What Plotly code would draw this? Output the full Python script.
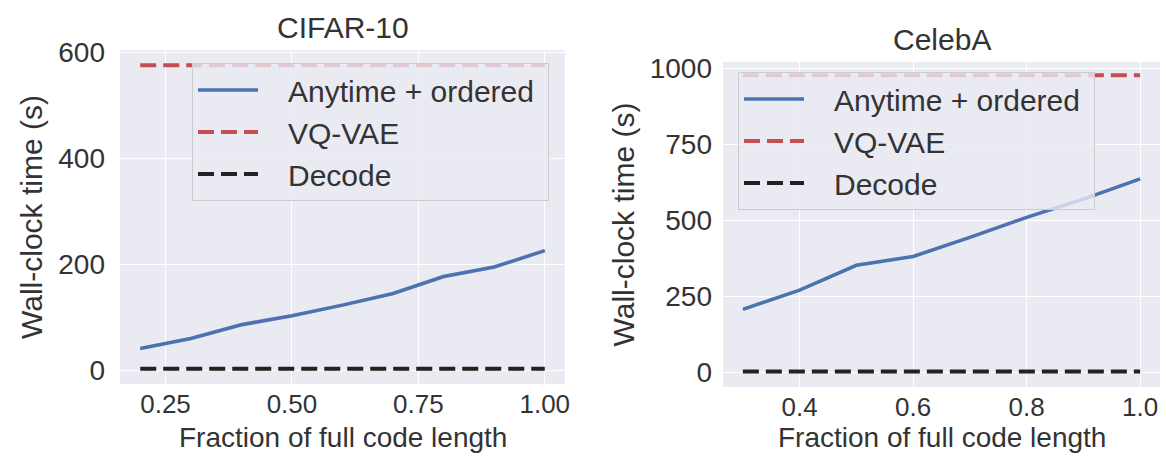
import plotly.graph_objects as go

# ---------------- data ----------------
cifar_x = [0.2, 0.3, 0.4, 0.45, 0.5, 0.6, 0.7, 0.8, 0.9, 1.0]
cifar_anytime = [41, 60, 86, 95, 103, 123, 145, 177, 195, 226]
cifar_lower = [39, 57, 82, 90, 100, 120, 142, 173, 192, 223]
cifar_upper = [44, 63, 90, 99, 106, 126, 148, 181, 198, 229]
cifar_vqvae = 576
cifar_decode = 3

celeba_x = [0.3, 0.4, 0.5, 0.6, 0.7, 0.8, 0.9, 1.0]
celeba_anytime = [207, 270, 352, 381, 444, 510, 570, 637]
celeba_vqvae = 978
celeba_decode = 2

titles = ["CIFAR-10", "CelebA"]
series_names = ["Anytime + ordered", "VQ-VAE", "Decode"]
xlabel = "Fraction of full code length"
ylabel = "Wall-clock time (s)"
cifar_xticks = [0.25, 0.50, 0.75, 1.00]
cifar_xticklabels = ["0.25", "0.50", "0.75", "1.00"]
cifar_yticks = [0, 200, 400, 600]
celeba_xticks = [0.4, 0.6, 0.8, 1.0]
celeba_xticklabels = ["0.4", "0.6", "0.8", "1.0"]
celeba_yticks = [0, 250, 500, 750, 1000]

# ---------------- style ----------------
BLUE = "#4C72B0"
RED = "#C44E52"
BLACK = "#222222"
BG = "#EAEAF2"
FONT = "Liberation Sans, Arial, sans-serif"
TXT = "#333333"
W, H = 1166, 459
PAD = "\u00a0\u00a0\u00a0"  # gap between legend sample and label


def lbl(s):
    return PAD + s + "\u00a0"


fig = go.Figure()


def add_panel(xs, ys, vq, dec, xa, ya, legend, band=None):
    if band is not None:
        lo, hi = band
        fig.add_trace(go.Scatter(x=xs, y=hi, mode="lines", line=dict(width=0),
                                 showlegend=False, hoverinfo="skip", xaxis=xa, yaxis=ya))
        fig.add_trace(go.Scatter(x=xs, y=lo, mode="lines", line=dict(width=0),
                                 fill="tonexty", fillcolor="rgba(76,114,176,0.2)",
                                 showlegend=False, hoverinfo="skip", xaxis=xa, yaxis=ya))
    fig.add_trace(go.Scatter(x=xs, y=ys, mode="lines", name=lbl(series_names[0]),
                             line=dict(color=BLUE, width=3.5), xaxis=xa, yaxis=ya,
                             legend=legend, legendgroup=legend + "a"))
    fig.add_trace(go.Scatter(x=[xs[0], xs[-1]], y=[vq, vq], mode="lines",
                             name=lbl(series_names[1]),
                             line=dict(color=RED, width=4, dash="16px,7px"), xaxis=xa, yaxis=ya,
                             legend=legend, legendgroup=legend + "b"))
    fig.add_trace(go.Scatter(x=[xs[0], xs[-1]], y=[dec, dec], mode="lines",
                             name=lbl(series_names[2]),
                             line=dict(color=BLACK, width=4, dash="16px,7px"), xaxis=xa, yaxis=ya,
                             legend=legend, legendgroup=legend + "c"))


add_panel(cifar_x, cifar_anytime, cifar_vqvae, cifar_decode, "x", "y", "legend",
          band=(cifar_lower, cifar_upper))
add_panel(celeba_x, celeba_anytime, celeba_vqvae, celeba_decode, "x2", "y2", "legend2")

axis_common = dict(showgrid=True, gridcolor="white", gridwidth=1.2, zeroline=False,
                   showline=False, ticks="", automargin=False,
                   title_font=dict(family=FONT, size=30, color=TXT))
xtickfont = dict(family=FONT, size=26, color=TXT)
ytickfont = dict(family=FONT, size=28, color=TXT)

legend_common = dict(xanchor="left", yanchor="top",
                     bgcolor="rgba(234,234,242,0.8)", bordercolor="#cccccc", borderwidth=1,
                     font=dict(family=FONT, size=30, color=TXT), tracegroupgap=0,
                     traceorder="grouped", itemwidth=60)

fig.update_layout(
    width=W, height=H, margin=dict(l=0, r=0, t=0, b=0, autoexpand=False),
    paper_bgcolor="white", plot_bgcolor=BG,
    font=dict(family=FONT, color=TXT),
    xaxis=dict(domain=[120 / W, 565 / W], range=[0.16, 1.04], tickvals=cifar_xticks,
               ticktext=cifar_xticklabels, anchor="y", ticklabelstandoff=2,
               tickfont=xtickfont, **axis_common),
    yaxis=dict(domain=[1 - 384 / H, 1 - 50 / H], range=[-26, 605], tickvals=cifar_yticks,
               anchor="x", title=dict(text=ylabel, standoff=6), ticklabelstandoff=14,
               tickfont=ytickfont, **axis_common),
    xaxis2=dict(domain=[723 / W, 1160 / W], range=[0.265, 1.035], tickvals=celeba_xticks,
                ticktext=celeba_xticklabels, anchor="y2", ticklabelstandoff=2,
                tickfont=xtickfont, **axis_common),
    yaxis2=dict(domain=[1 - 387 / H, 1 - 62 / H], range=[-49, 1022], tickvals=celeba_yticks,
                anchor="x2", title=dict(text=ylabel, standoff=6), ticklabelstandoff=10,
                tickfont=ytickfont, **axis_common),
    legend=dict(x=192 / W, y=1 - 63 / H, **legend_common),
    legend2=dict(x=738 / W, y=1 - 72 / H, **legend_common),
    showlegend=True,
)

for ax_x, ax_y, t in [("x", "y", titles[0]), ("x2", "y2", titles[1])]:
    fig.add_annotation(text=t, xref=ax_x + " domain", yref=ax_y + " domain", x=0.5, y=1,
                       xanchor="center", yanchor="bottom", yshift=4, showarrow=False,
                       font=dict(family=FONT, size=30, color=TXT))
    # x-axis title
    fig.add_annotation(text=xlabel, xref=ax_x + " domain", yref="paper", x=0.5,
                       y=1 - 437 / H, xanchor="center", yanchor="middle", showarrow=False,
                       font=dict(family=FONT, size=28, color=TXT))

fig.write_html("out.html")
